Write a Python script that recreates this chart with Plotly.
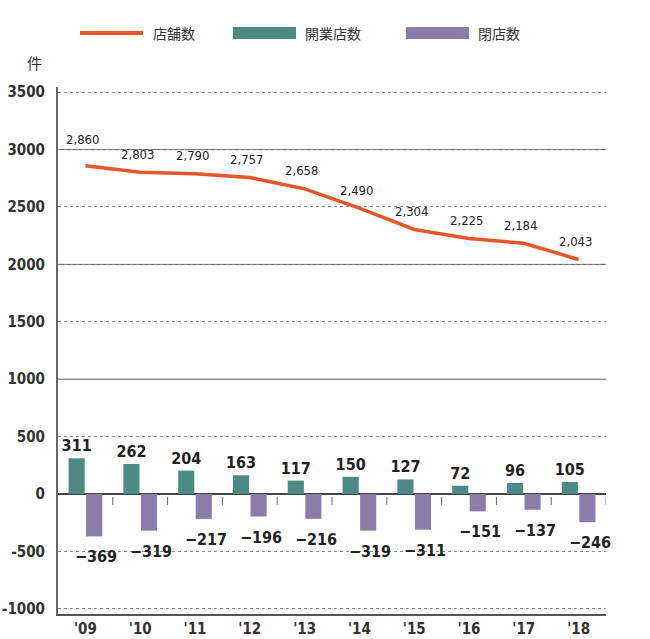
import plotly.graph_objects as go

years = ["'09", "'10", "'11", "'12", "'13", "'14", "'15", "'16", "'17", "'18"]
stores = [2860, 2803, 2790, 2757, 2658, 2490, 2304, 2225, 2184, 2043]
openings = [311, 262, 204, 163, 117, 150, 127, 72, 96, 105]
closings = [-369, -319, -217, -196, -216, -319, -311, -151, -137, -246]
y_ticks = [3500, 3000, 2500, 2000, 1500, 1000, 500, 0, -500, -1000]
y_ticktext = ["3500", "3000", "2500", "2000", "1500", "1000", "500", "0", "-500", "-1000"]
solid_grid = [1000, 2000, 3000]

C_LINE = "#E8562A"
C_OPEN = "#4D8A86"
C_CLOSE = "#8B7DAB"
NARROW = "DejaVu Sans Condensed, Liberation Sans Narrow, Arial Narrow, sans-serif"
CJK = "Noto Sans CJK JP, Noto Sans, sans-serif"

x_idx = list(range(len(years)))

L, R, T, B = 58, 606, 87, 614

fig = go.Figure()
fig.add_trace(go.Bar(x=x_idx, y=openings, name="開業店数", marker=dict(color=C_OPEN, line=dict(width=0)),
                     text=openings, texttemplate="%{y}", textposition="outside", cliponaxis=False,
                     constraintext="none",
                     textfont=dict(family=NARROW, size=16, color="#222", weight="bold"), showlegend=False))
fig.add_trace(go.Bar(x=x_idx, y=closings, name="閉店数", marker=dict(color=C_CLOSE, line=dict(width=0)),
                     showlegend=False))
fig.add_trace(go.Scatter(x=x_idx, y=stores, name="店舗数", mode="lines",
                         line=dict(color=C_LINE, width=3.5), showlegend=False))

annotations = []
for i, (xi, v) in enumerate(zip(x_idx, stores)):
    annotations.append(dict(x=xi, y=v, text=f"{v:,}", showarrow=False,
                            yshift=26 if i == 0 else 18, xshift=-3,
                            font=dict(family=NARROW, size=13, color="#222")))
for xi, v in zip(x_idx, closings):
    annotations.append(dict(x=xi, y=v, text=str(v).replace("-", "\u2212"), showarrow=False,
                            yanchor="top", yshift=-9, xshift=11,
                            font=dict(family=NARROW, size=16, color="#222", weight="bold")))

def px2x(px):
    return (px - L) / float(R - L)

def py2y(py):
    return (B - py) / float(B - T)

shapes = []
# custom legend
shapes.append(dict(type="line", xref="paper", yref="paper", x0=px2x(80), x1=px2x(143),
                   y0=py2y(33), y1=py2y(33), line=dict(color=C_LINE, width=4)))
shapes.append(dict(type="rect", xref="paper", yref="paper", x0=px2x(233), x1=px2x(296),
                   y0=py2y(39), y1=py2y(27), fillcolor=C_OPEN, line=dict(width=0)))
shapes.append(dict(type="rect", xref="paper", yref="paper", x0=px2x(406), x1=px2x(469),
                   y0=py2y(39), y1=py2y(27), fillcolor=C_CLOSE, line=dict(width=0)))
for txt, px in [("店舗数", 151), ("開業店数", 303), ("閉店数", 476)]:
    annotations.append(dict(xref="paper", yref="paper", x=px2x(px), y=py2y(33), text=txt,
                            xanchor="left", yanchor="middle", showarrow=False,
                            font=dict(family=CJK, size=14, color="#333")))
annotations.append(dict(xref="paper", yref="paper", x=px2x(34), y=py2y(63), text="件",
                        xanchor="center", yanchor="middle", showarrow=False,
                        font=dict(family=CJK, size=15, color="#333")))

# solid gridlines at thousands
for g in solid_grid:
    shapes.append(dict(type="line", xref="paper", yref="y", x0=0, x1=1, y0=g, y1=g,
                       layer="below", line=dict(color="#555", width=1)))
# small ticks on the zero line at category boundaries
for xi in x_idx:
    shapes.append(dict(type="line", xref="x", yref="y", x0=xi + 0.5, x1=xi + 0.5, y0=-25, y1=-95,
                       line=dict(color="#666", width=1)))

fig.update_layout(
    width=650, height=639,
    margin=dict(l=L, r=650 - R, t=T, b=639 - B, autoexpand=False),
    paper_bgcolor="white", plot_bgcolor="white",
    barmode="group", bargap=0.36, bargroupgap=0.08,
    annotations=annotations, shapes=shapes,
    showlegend=False,
)
fig.update_xaxes(range=[-0.5, 9.5], tickmode="array", tickvals=x_idx, ticktext=years,
                 showgrid=False, showline=True, linecolor="#555", linewidth=2, ticks="",
                 ticklabelstandoff=0, automargin=False,
                 tickfont=dict(family=NARROW, size=15, color="#333", weight="bold"), zeroline=False)
fig.update_yaxes(range=[-1045, 3545], tickmode="array", tickvals=y_ticks, ticktext=y_ticktext,
                 showgrid=True, gridcolor="#888", griddash="dot", gridwidth=1,
                 zeroline=True, zerolinecolor="#444", zerolinewidth=1.5,
                 showline=True, linecolor="#666", linewidth=2, ticks="",
                 ticklabelstandoff=8, automargin=False,
                 tickfont=dict(family=NARROW, size=15, color="#333", weight="bold"))

fig.write_html("out.html")
